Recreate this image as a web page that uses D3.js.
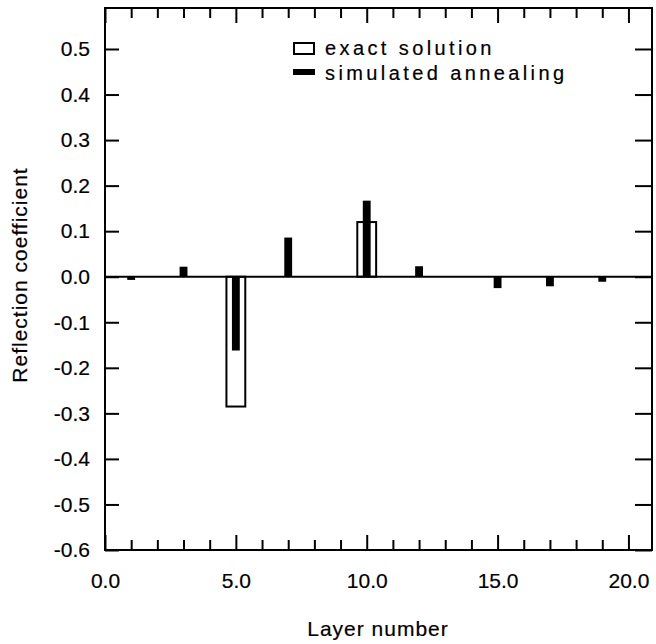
<!DOCTYPE html>
<html>
<head>
<meta charset="utf-8">
<script src="https://cdn.jsdelivr.net/npm/d3@7"></script>
<style>
  body { margin: 0; background: #fff; }
  svg { display: block; font-family: "Liberation Sans", Arial, Helvetica, sans-serif; }
  svg text { stroke: #000; stroke-width: 0.2px; }
</style>
</head>
<body>
<div id="chart"></div>
<script>
// Layer numbers and reflection coefficients
const layers = [1, 2, 3, 4, 5, 6, 7, 8, 9, 10, 11, 12, 13, 14, 15, 16, 17, 18, 19, 20];
const exactValues = [0, 0, 0, 0, -0.285, 0, 0, 0, 0, 0.12, 0, 0, 0, 0, 0, 0, 0, 0, 0, 0];
const annealingValues = [-0.007, 0, 0.022, 0, -0.162, 0, 0.086, 0, 0, 0.167, 0, 0.023, 0, 0, -0.025, 0, -0.021, 0, -0.011, 0];

// Tick values / labels
const xTicks = [0, 1, 2, 3, 4, 5, 6, 7, 8, 9, 10, 11, 12, 13, 14, 15, 16, 17, 18, 19, 20];
const xLabelTicks = [0, 5, 10, 15, 20];
const yTicks = [-0.6, -0.5, -0.4, -0.3, -0.2, -0.1, 0.0, 0.1, 0.2, 0.3, 0.4, 0.5];

const legendLabels = ["exact solution", "simulated annealing"];

const width = 656;
const height = 644;
const marginTop = 8;
const marginRight = 4;
const marginBottom = 94;
const marginLeft = 105;

const x = d3.scaleLinear()
    .domain([0, 20.9])
    .range([marginLeft, width - marginRight]);

const y = d3.scaleLinear()
    .domain([-0.6, 0.59])
    .range([height - marginBottom, marginTop]);

const svg = d3.select("#chart")
  .append("svg")
    .attr("width", width)
    .attr("height", height)
    .attr("viewBox", [0, 0, width, height]);

const data = layers.map((d, i) => ({layer: d, exact: exactValues[i], sa: annealingValues[i]}));

// exact solution (open bars)
const exactW = x(0.72) - x(0);
svg.append("g")
  .selectAll("rect")
  .data(data.filter(d => d.exact !== 0))
  .join("rect")
    .attr("x", d => x(d.layer) - exactW / 2)
    .attr("y", d => y(Math.max(0, d.exact)))
    .attr("width", exactW)
    .attr("height", d => Math.abs(y(d.exact) - y(0)))
    .attr("fill", "#fff")
    .attr("stroke", "#000")
    .attr("stroke-width", 2);

// simulated annealing (filled bars)
const saW = x(0.3) - x(0);
svg.append("g")
  .selectAll("rect")
  .data(data.filter(d => d.sa !== 0))
  .join("rect")
    .attr("x", d => x(d.layer) - saW / 2)
    .attr("y", d => y(Math.max(0, d.sa)))
    .attr("width", saW)
    .attr("height", d => Math.abs(y(d.sa) - y(0)))
    .attr("fill", "#000");

// zero line
svg.append("line")
    .attr("x1", x.range()[0]).attr("x2", x.range()[1])
    .attr("y1", y(0)).attr("y2", y(0))
    .attr("stroke", "#000")
    .attr("stroke-width", 2);

// axes, ticks pointing inward; plain hyphen for negatives like the original
const fmt = d => d3.format(".1f")(d).replace("\u2212", "-");

const gx = svg.append("g")
    .attr("transform", `translate(0,${y.range()[0]})`)
    .call(d3.axisBottom(x).tickValues(xTicks).tickSize(-10).tickPadding(23)
      .tickFormat(d => xLabelTicks.includes(d) ? fmt(d) : ""));
gx.selectAll(".tick line").attr("y2", d => (d % 5 === 0) ? -15 : -10);

const gxTop = svg.append("g")
    .attr("transform", `translate(0,${y.range()[1]})`)
    .call(d3.axisTop(x).tickValues(xTicks).tickSize(-10).tickFormat(""));
gxTop.selectAll(".tick line").attr("y2", d => (d % 5 === 0) ? 15 : 10);

const gy = svg.append("g")
    .attr("transform", `translate(${x.range()[0]},0)`)
    .call(d3.axisLeft(y).tickValues(yTicks).tickSize(-14).tickPadding(15).tickFormat(fmt));

const gyRight = svg.append("g")
    .attr("transform", `translate(${x.range()[1]},0)`)
    .call(d3.axisRight(y).tickValues(yTicks).tickSize(-17).tickFormat(""));

[gx, gxTop, gy, gyRight].forEach(g => {
  g.select(".domain").remove();
  g.selectAll(".tick line").attr("stroke", "#000").attr("stroke-width", 2);
  g.selectAll(".tick text")
      .attr("fill", "#000")
      .style("font-size", "21px");
});

// frame
svg.append("rect")
    .attr("x", x.range()[0])
    .attr("y", y.range()[1])
    .attr("width", x.range()[1] - x.range()[0])
    .attr("height", y.range()[0] - y.range()[1])
    .attr("fill", "none")
    .attr("stroke", "#000")
    .attr("stroke-width", 2);

// axis titles
svg.append("text")
    .attr("transform", "rotate(-90)")
    .attr("x", -275)
    .attr("y", 27)
    .attr("text-anchor", "middle")
    .style("font-size", "21px")
    .style("letter-spacing", "1px")
    .attr("fill", "#000")
    .text("Reflection coefficient");

svg.append("text")
    .attr("x", 378)
    .attr("y", 636)
    .attr("text-anchor", "middle")
    .style("font-size", "21px")
    .style("letter-spacing", "1px")
    .attr("fill", "#000")
    .text("Layer number");

// legend
const legend = svg.append("g").attr("transform", "translate(293,0)");
legend.append("rect")
    .attr("x", 1).attr("y", 43)
    .attr("width", 20).attr("height", 11)
    .attr("fill", "#fff")
    .attr("stroke", "#000")
    .attr("stroke-width", 2);
legend.append("rect")
    .attr("x", 0).attr("y", 69)
    .attr("width", 22).attr("height", 6)
    .attr("fill", "#000");
legend.selectAll("text")
  .data(legendLabels)
  .join("text")
    .attr("x", 32)
    .attr("y", (d, i) => 55 + i * 25)
    .style("font-size", "20px")
    .style("letter-spacing", "3.4px")
    .attr("fill", "#000")
    .text(d => d);
</script>
</body>
</html>
